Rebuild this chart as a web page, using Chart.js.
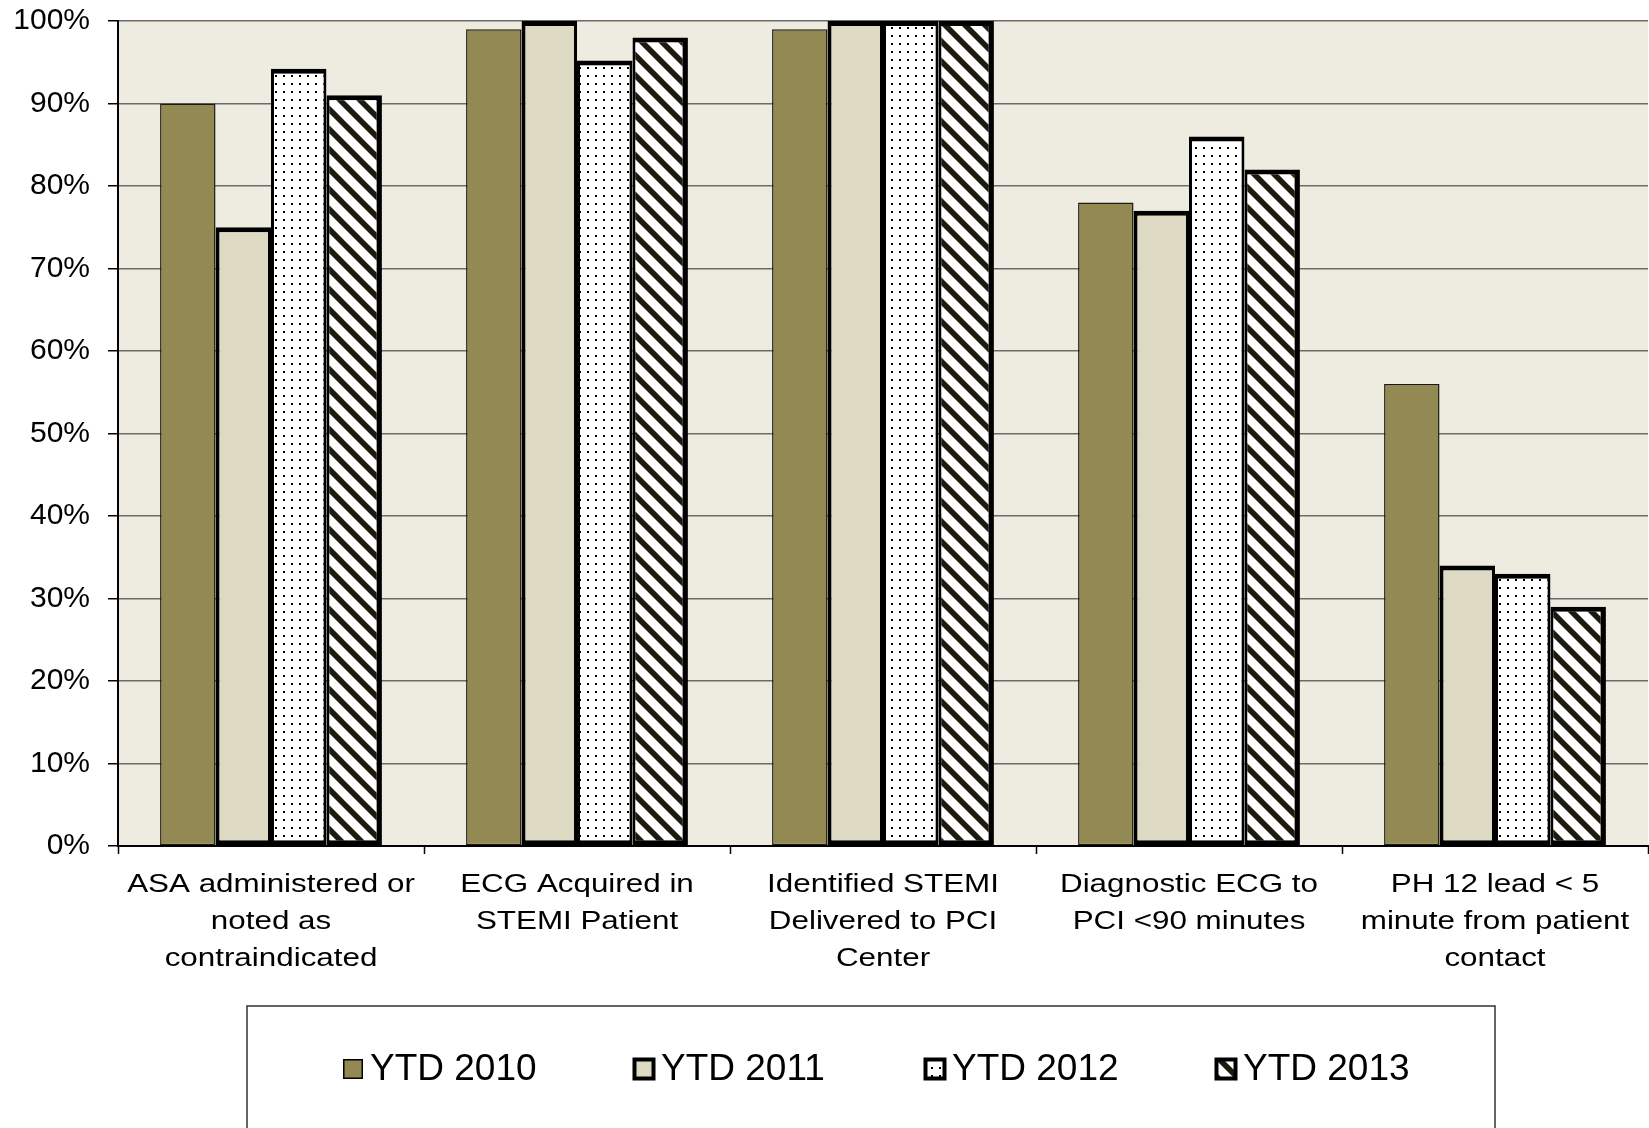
<!DOCTYPE html>
<html>
<head>
<meta charset="utf-8">
<script src="https://cdn.jsdelivr.net/npm/chart.js@4.4.1/dist/chart.umd.min.js"></script>
<style>
  html, body { margin: 0; padding: 0; background: #fff; }
  canvas { display: block; }
</style>
</head>
<body>
<canvas id="stemiChart" width="1649" height="1128"></canvas>
<script>
// Chart data
const categories = [
    ['ASA administered or', 'noted as', 'contraindicated'],
    ['ECG Acquired in', 'STEMI Patient'],
    ['Identified STEMI', 'Delivered to PCI', 'Center'],
    ['Diagnostic ECG to', 'PCI <90 minutes'],
    ['PH 12 lead < 5', 'minute from patient', 'contact']
];
const seriesNames = ['YTD 2010', 'YTD 2011', 'YTD 2012', 'YTD 2013'];
const ytd2010 = [90, 99, 99, 78, 56];
const ytd2011 = [75, 100, 100, 77, 34];
const ytd2012 = [94.2, 95.2, 100, 86, 33];
const ytd2013 = [91, 98, 100, 82, 29];
const yMin = 0, yMax = 100, yStep = 10;

const canvas = document.getElementById('stemiChart');
const ctx = canvas.getContext('2d');

// Fill patterns (dots and diagonal stripes)
function makeDots() {
    const c = document.createElement('canvas');
    c.width = 8; c.height = 8;
    const g = c.getContext('2d');
    g.fillStyle = '#fff';
    g.fillRect(0, 0, 8, 8);
    g.fillStyle = '#000';
    g.fillRect(3, 3, 2, 2);
    return ctx.createPattern(c, 'repeat');
}
function makeStripes() {
    const c = document.createElement('canvas');
    c.width = 20; c.height = 20;
    const g = c.getContext('2d');
    g.fillStyle = '#fff';
    g.fillRect(0, 0, 20, 20);
    g.strokeStyle = '#1d1b10';
    g.lineWidth = 5.6;
    [-20, 0, 20].forEach(k => {
        g.beginPath();
        g.moveTo(k - 3, -3);
        g.lineTo(k + 23, 23);
        g.stroke();
    });
    return ctx.createPattern(c, 'repeat');
}
const dots = makeDots();
const stripes = makeStripes();

const plotBackground = {
    id: 'plotBackground',
    beforeDraw(chart) {
        const a = chart.chartArea;
        const c = chart.ctx;
        c.save();
        c.fillStyle = '#fff';
        c.fillRect(0, 0, chart.width, chart.height);
        c.fillStyle = '#EEECE1';
        c.fillRect(a.left, a.top, a.right - a.left, a.bottom - a.top);
        c.restore();
    }
};

// category labels are slightly stretched horizontally in the original
const categoryLabels = {
    id: 'categoryLabels',
    afterDraw(chart) {
        const xs = chart.scales.x;
        const c = chart.ctx;
        c.save();
        c.font = '25.5px "Liberation Sans", Arial, sans-serif';
        c.fillStyle = '#000';
        c.textAlign = 'center';
        c.textBaseline = 'alphabetic';
        chart.data.labels.forEach((lines, i) => {
            const cx = xs.getPixelForValue(i);
            lines.forEach((line, j) => {
                c.save();
                c.translate(cx, xs.top + 46 + j * 37);
                c.scale(1.23, 1);
                c.fillText(line, 0, 0);
                c.restore();
            });
        });
        c.restore();
    }
};

const legendBox = {
    id: 'legendBox',
    afterDraw(chart) {
        const c = chart.ctx;
        c.save();
        c.strokeStyle = '#333';
        c.lineWidth = 1.5;
        c.strokeRect(247, 1006, 1248, 140);
        c.font = '37px "Liberation Sans", Arial, sans-serif';
        c.textBaseline = 'alphabetic';
        c.textAlign = 'left';
        chart.data.datasets.forEach((ds, i) => {
            const x0 = 343 + i * 291;
            // thin outline for the first series, heavy outline for the rest
            const grow = i === 0 ? 0 : 1.5;
            const bw = i === 0 ? 1.5 : 4;
            const sx = x0 - grow, sy = 1059 - grow, size = 20 + 2 * grow;
            c.fillStyle = '#000';
            c.fillRect(sx, sy, size, size);
            c.fillStyle = ds.backgroundColor;
            c.fillRect(sx + bw, sy + bw, size - 2 * bw, size - 2 * bw);
            c.fillStyle = '#000';
            c.fillText(ds.label, x0 + 27, 1080);
        });
        c.restore();
    }
};

const stemiChart = new Chart(canvas, {
    type: 'bar',
    data: {
        labels: categories,
        datasets: [{
            label: seriesNames[0],
            data: ytd2010,
            backgroundColor: '#938953',
            borderColor: '#1d1b10',
            borderWidth: 1.5
        }, {
            label: seriesNames[1],
            data: ytd2011,
            backgroundColor: '#DDD9C3',
            borderColor: '#000',
            borderWidth: { top: 5, right: 3, bottom: 5, left: 4 }
        }, {
            label: seriesNames[2],
            data: ytd2012,
            backgroundColor: dots,
            borderColor: '#000',
            borderWidth: { top: 5, right: 3, bottom: 5, left: 3 }
        }, {
            label: seriesNames[3],
            data: ytd2013,
            backgroundColor: stripes,
            borderColor: '#000',
            borderWidth: { top: 5, right: 5.5, bottom: 5, left: 3 }
        }]
    },
    options: {
        responsive: false,
        animation: false,
        layout: { padding: { top: 21, right: 1, left: 0, bottom: 0 } },
        datasets: {
            bar: {
                categoryPercentage: 0.725,
                barPercentage: 1.0,
                borderSkipped: false
            }
        },
        plugins: {
            legend: { display: false },
            tooltip: { enabled: false }
        },
        scales: {
            x: {
                grid: {
                    display: true,
                    drawOnChartArea: false,
                    drawTicks: true,
                    tickLength: 8,
                    tickColor: '#000',
                    tickWidth: 1.5,
                    offset: true
                },
                border: { display: true, color: '#000', width: 2 },
                ticks: { display: false },
                afterFit: s => { s.height = 282; }
            },
            y: {
                min: yMin,
                max: yMax,
                ticks: {
                    stepSize: yStep,
                    callback: v => v + '%',
                    font: { family: '"Liberation Sans", Arial, sans-serif', size: 30 },
                    color: '#000',
                    padding: 18
                },
                grid: {
                    color: '#6b6b6b',
                    lineWidth: 1.5,
                    tickColor: '#000',
                    tickLength: 10,
                    tickWidth: 1.5
                },
                border: { color: '#000', width: 2 },
                afterFit: s => {
                    s.width = 118;
                    s.paddingTop = 0;
                    s.paddingBottom = 0;
                }
            }
        }
    },
    plugins: [plotBackground, categoryLabels, legendBox]
});
</script>
</body>
</html>
